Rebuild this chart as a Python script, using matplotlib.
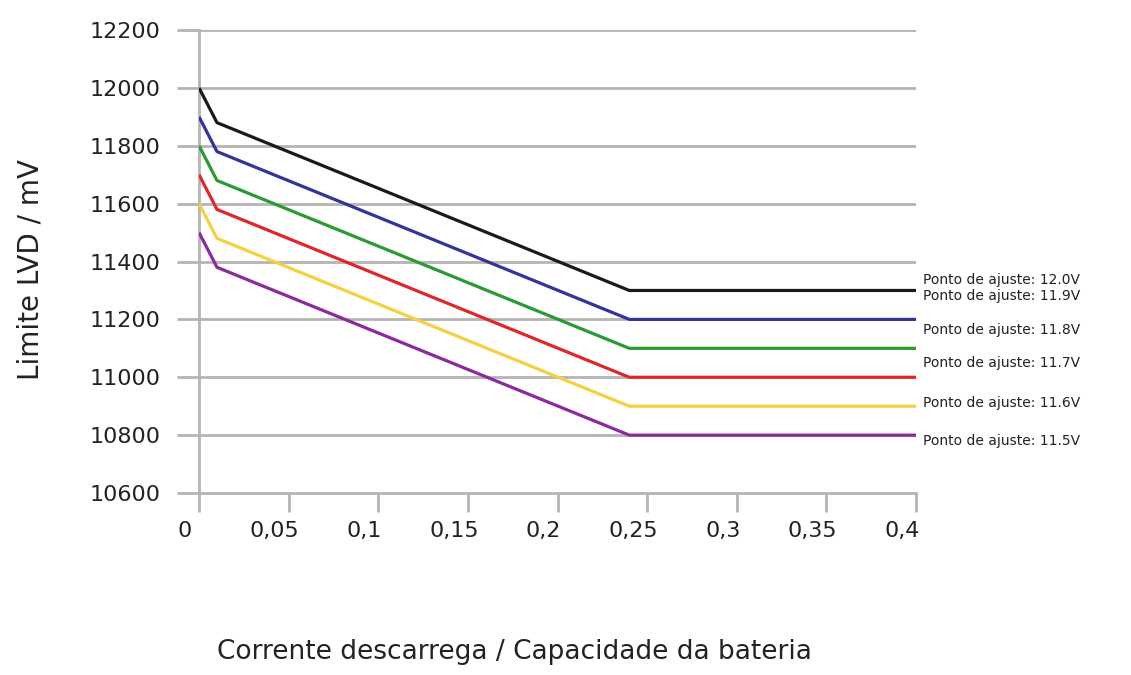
import matplotlib.pyplot as plt
import matplotlib.transforms as mtransforms

# curve break points (x = discharge current / battery capacity)
x_pts = [0, 0.01, 0.24, 0.4]

lvd_120 = [12000, 11880, 11300, 11300]
lvd_119 = [11900, 11780, 11200, 11200]
lvd_118 = [11800, 11680, 11100, 11100]
lvd_117 = [11700, 11580, 11000, 11000]
lvd_116 = [11600, 11480, 10900, 10900]
lvd_115 = [11500, 11380, 10800, 10800]

labels = ["Ponto de ajuste: 12.0V", "Ponto de ajuste: 11.9V", "Ponto de ajuste: 11.8V",
          "Ponto de ajuste: 11.7V", "Ponto de ajuste: 11.6V", "Ponto de ajuste: 11.5V"]

x_ticks = [0, 0.05, 0.1, 0.15, 0.2, 0.25, 0.3, 0.35, 0.4]
x_tick_labels = ["0", "0,05", "0,1", "0,15", "0,2", "0,25", "0,3", "0,35", "0,4"]
y_ticks = [10600, 10800, 11000, 11200, 11400, 11600, 11800, 12000, 12200]


def main():
  fig = plt.figure(figsize=(11.31, 6.75), dpi=100)
  ax = fig.add_axes([0.176, 0.2696, 0.634, 0.6859])

  grid_c = "#b4b4b4"
  series = [lvd_120, lvd_119, lvd_118, lvd_117, lvd_116, lvd_115]
  colors = ["#1a1a1a", "#33339a", "#2a9a33", "#e0262a", "#f5d040", "#8a2a9e"]
  # vertical nudge (points) of each right-hand label relative to line end
  offsets = [7.5, 16.5, 13, 10, 2, -4]

  for y in y_ticks[1:]:
    ax.axhline(y, color=grid_c, lw=2.0, zorder=1)

  for vals, c, lab, off in zip(series, colors, labels, offsets):
    ax.plot(x_pts, vals, color=c, lw=2.3, zorder=3, solid_capstyle="butt")
    ax.annotate(lab, xy=(0.4, vals[-1]), xytext=(5, off), textcoords="offset points",
                ha="left", va="center", fontsize=10, color="#222222",
                annotation_clip=False)

  ax.set_xlim(0, 0.4)
  ax.set_ylim(10600, 12200)
  ax.set_xticks(x_ticks)
  ax.set_xticklabels(x_tick_labels)
  ax.set_yticks(y_ticks)
  ax.set_yticklabels([str(v) for v in y_ticks])

  for s in ["top", "right"]:
    ax.spines[s].set_visible(False)
  for s in ["left", "bottom"]:
    ax.spines[s].set_color(grid_c)
    ax.spines[s].set_linewidth(2.0)

  ax.tick_params(axis="x", direction="out", length=14, width=2, color=grid_c,
                 labelsize=16, pad=6, labelcolor="#222222")
  ax.tick_params(axis="y", direction="out", length=16, width=2, color=grid_c,
                 labelsize=16, pad=12, labelcolor="#222222")

  shift = mtransforms.ScaledTranslation(-14 / 100, 0, fig.dpi_scale_trans)
  for t in ax.get_xticklabels():
    t.set_transform(t.get_transform() + shift)

  fig.text(0.455, 0.034, "Corrente descarrega / Capacidade da bateria",
           ha="center", va="center", fontsize=19, color="#222222")
  fig.text(0.027, 0.60, "Limite LVD / mV", rotation=90,
           ha="center", va="center", fontsize=20, color="#222222")

  fig.savefig("out.png", dpi=100)


if __name__ == "__main__":
  main()
